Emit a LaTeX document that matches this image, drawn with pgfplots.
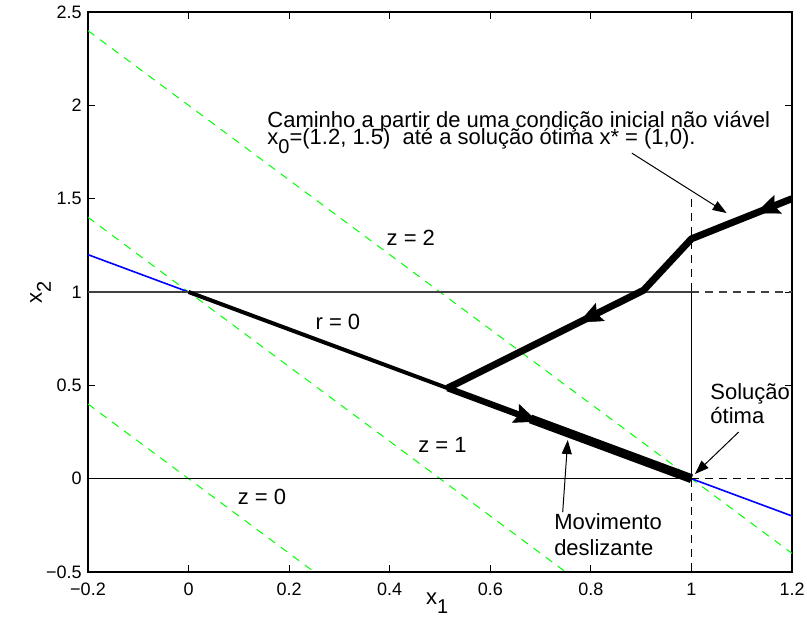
\documentclass[border=0pt]{standalone}
\usepackage{fontspec}
\setmainfont{Liberation Sans}
\usepackage{pgfplots}
\pgfplotsset{compat=1.18}
\usetikzlibrary{arrows.meta}

% lowered index, set almost at full size
\newcommand\sub[1]{\raisebox{-4.5pt}{\fontsize{10}{10}\selectfont #1}}
\newcommand\txt{\fontsize{11}{12}\selectfont}

\tikzset{
  bighead/.style={black, line width=0.2pt, -{Stealth[length=12pt,width=10pt,inset=2pt]}},
  note/.style={black, line width=0.5pt, -{Triangle[length=7pt,width=5pt]}},
}

\begin{document}
\begin{tikzpicture}
\begin{axis}[
  scale only axis, width=352pt, height=280pt,
  clip mode=individual,
  xmin=-0.2, xmax=1.2, ymin=-0.5, ymax=2.5,
  xtick={-0.2,0,0.2,0.4,0.6,0.8,1,1.2},
  ytick={-0.5,0,0.5,1,1.5,2,2.5},
  xticklabels={−0.2,0,0.2,0.4,0.6,0.8,1,1.2},
  yticklabels={−0.5,0,0.5,1,1.5,2,2.5},
  tick align=inside, major tick length=3.5pt,
  tick style={black, line width=0.5pt},
  axis line style={line width=0.6pt},
  ticklabel style={font=\fontsize{9}{10}\selectfont},
  xticklabel style={inner sep=0pt, yshift=-5.5pt},
  yticklabel style={inner sep=0pt, xshift=-3pt},
  every axis plot/.append style={line cap=butt},
]
% level lines of the cost z = 2 x1 + x2
\addplot[green, line width=0.5pt, dash pattern=on 4pt off 3.5pt] coordinates {(-0.2,2.4) (1.2,-0.4)};
\addplot[green, line width=0.5pt, dash pattern=on 4pt off 3.5pt] coordinates {(-0.2,1.4) (0.75,-0.5)};
\addplot[green, line width=0.5pt, dash pattern=on 4pt off 3.5pt] coordinates {(-0.2,0.4) (0.25,-0.5)};
% constraint r = 0
\addplot[blue, line width=0.8pt] coordinates {(-0.2,1.2) (1.2,-0.2)};
% bounds
\addplot[black!75, line width=0.7pt] coordinates {(-0.2,1) (1,1)};
\addplot[black!75, line width=0.7pt, dash pattern=on 4pt off 3pt] coordinates {(1,1) (1.2,1)};
\addplot[black, line width=0.5pt] coordinates {(-0.2,0) (1,0)};
\addplot[black, line width=0.5pt, dash pattern=on 4pt off 3pt] coordinates {(1,0) (1.2,0)};
\addplot[black, line width=0.5pt] coordinates {(1,1) (1,0)};
\addplot[black, line width=0.5pt, dash pattern=on 4pt off 3pt] coordinates {(1,1.5) (1,1)};
\addplot[black, line width=0.5pt, dash pattern=on 4pt off 3pt] coordinates {(1,0) (1,-0.5)};
% r = 0 segment
\addplot[black, line width=2pt] coordinates {(0,1) (0.515,0.485)};
% trajectory from x0 = (1.2, 1.5)
\addplot[black, line width=3.5pt, line join=round]
  coordinates {(1.2,1.5) (1.0,1.285) (0.905,1.01) (0.515,0.485)};
\addplot[bighead] coordinates {(1.16,1.457) (1.128,1.4226)};
\addplot[bighead] coordinates {(0.80,0.868) (0.776,0.836)};
% sliding motion along r = 0
\addplot[black, line width=3.2pt] coordinates {(0.515,0.485) (1,0)};
\addplot[black, line width=4.5pt] coordinates {(0.68,0.32) (1,0)};
\addplot[bighead] coordinates {(0.67,0.33) (0.6946,0.3054)};
% annotation arrows
\addplot[note] coordinates {(0.8815,1.744) (1.07,1.423)};
\addplot[note] coordinates {(1.094,0.25) (1.007,0.025)};
\addplot[note] coordinates {(0.744,-0.179) (0.754,0.207)};
% texts
\node[anchor=base, inner sep=0pt, font=\txt] at (axis cs:0.442,1.2515) {z = 2};
\node[anchor=base, inner sep=0pt, font=\txt] at (axis cs:0.505,0.139) {z = 1};
\node[anchor=base, inner sep=0pt, font=\txt] at (axis cs:0.146,-0.136) {z = 0};
\node[anchor=base, inner sep=0pt, font=\txt] at (axis cs:0.297,0.80) {r = 0};
\node[anchor=base west, inner sep=0pt, font=\txt] at (axis cs:0.156,1.8835) {Caminho a partir de uma condição inicial não viável};
\node[anchor=base west, inner sep=0pt, font=\txt] at (axis cs:0.156,1.7924) {x\sub{0}=(1.2, 1.5)\ \ até a solução ótima x* = (1,0).};
\node[anchor=base west, inner sep=0pt, font=\txt] at (axis cs:1.037,0.4266) {Solução};
\node[anchor=base west, inner sep=0pt, font=\txt] at (axis cs:1.037,0.298) {ótima};
\node[anchor=base west, inner sep=0pt, font=\txt] at (axis cs:0.7264,-0.2697) {Movimento};
\node[anchor=base west, inner sep=0pt, font=\txt] at (axis cs:0.7264,-0.409) {deslizante};
% axis labels
\node[anchor=base, inner sep=0pt, font=\txt] at ([shift={(0pt,-16pt)}]axis description cs:0.496,0) {x\sub{1}};
\node[anchor=base, inner sep=0pt, font=\txt, rotate=90] at ([shift={(-23pt,0pt)}]axis description cs:0,0.5) {x\sub{2}};
\end{axis}
\pgfresetboundingbox
\path ([shift={(-44pt,-24.5pt)}]current axis.south west) rectangle ([shift={(7.5pt,6pt)}]current axis.north east);
\end{tikzpicture}
\end{document}
